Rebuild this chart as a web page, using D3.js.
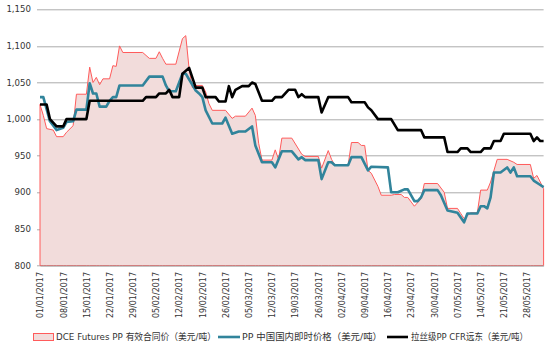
<!DOCTYPE html>
<html>
<head>
<meta charset="utf-8">
<script src="https://cdn.jsdelivr.net/npm/d3@7"></script>
<style>
body { margin: 0; background: #fff; }
</style>
</head>
<body>
<div id="chart"></div>
<script>
// DCE Futures PP contract price (red area)
const futures = [["01/01",1020],["02/01",1005],["03/01",987],["05/01",985],["06/01",976],["08/01",976],["09/01",982],["11/01",991],["12/01",1034],["15/01",1034],["16/01",1071],["17/01",1050],["18/01",1057],["19/01",1047],["20/01",1055],["22/01",1055],["23/01",1073],["24/01",1072],["25/01",1100],["26/01",1091],["01/02",1091],["03/02",1083],["05/02",1083],["06/02",1092],["07/02",1083],["08/02",1075],["11/02",1075],["13/02",1110],["14/02",1114],["15/02",1069],["16/02",1043],["17/02",1046],["19/02",1046],["20/02",1037],["21/02",1021],["22/02",1012],["26/02",1012],["28/02",1001],["01/03",1004],["04/03",1004],["06/03",1015],["07/03",1005],["08/03",967],["09/03",944],["12/03",944],["13/03",958],["14/03",945],["15/03",974],["18/03",974],["21/03",952],["22/03",949],["26/03",949],["27/03",933],["29/03",957],["30/03",945],["31/03",937],["04/04",937],["05/04",968],["07/04",968],["08/04",964],["09/04",964],["10/04",930],["11/04",926],["13/04",908],["14/04",896],["17/04",896],["18/04",897],["20/04",897],["21/04",893],["22/04",893],["24/04",881],["26/04",891],["27/04",912],["01/05",912],["03/05",900],["04/05",878],["07/05",878],["08/05",871],["09/05",864],["11/05",872],["13/05",872],["14/05",903],["16/05",903],["17/05",914],["19/05",945],["22/05",945],["24/05",941],["25/05",938],["29/05",938],["30/05",919],["31/05",923],["02/06",905]];

// PP China domestic spot price (teal line)
const domestic = [["01/01",1030],["02/01",1030],["04/01",997],["06/01",985],["08/01",988],["09/01",996],["11/01",997],["12/01",1013],["15/01",1013],["16/01",1049],["17/01",1035],["18/01",1035],["19/01",1017],["21/01",1017],["22/01",1025],["23/01",1030],["24/01",1030],["25/01",1046],["01/02",1046],["03/02",1058],["07/02",1058],["08/02",1046],["09/02",1038],["11/02",1038],["13/02",1062],["14/02",1062],["17/02",1039],["18/02",1035],["19/02",1030],["20/02",1012],["22/02",994],["25/02",994],["26/02",1002],["28/02",980],["02/03",983],["04/03",983],["06/03",990],["07/03",964],["09/03",941],["12/03",941],["13/03",934],["15/03",956],["18/03",956],["20/03",945],["21/03",948],["22/03",944],["26/03",944],["27/03",918],["29/03",941],["30/03",941],["31/03",937],["04/04",937],["05/04",948],["08/04",948],["10/04",930],["11/04",935],["16/04",934],["17/04",900],["19/04",900],["21/04",904],["22/04",904],["24/04",888],["25/04",888],["26/04",893],["27/04",903],["01/05",903],["02/05",896],["04/05",875],["07/05",872],["09/05",859],["10/05",871],["13/05",871],["14/05",881],["15/05",881],["16/05",878],["17/05",893],["18/05",927],["20/05",927],["22/05",934],["23/05",927],["24/05",934],["25/05",922],["29/05",922],["30/05",916],["01/06",910],["02/06",907]];

// raffia grade PP CFR Far East (black line)
const cfr = [["01/01",1020],["03/01",1020],["04/01",1000],["06/01",990],["08/01",990],["09/01",1000],["15/01",1000],["16/01",1025],["01/02",1025],["02/02",1030],["05/02",1030],["06/02",1035],["08/02",1035],["09/02",1040],["10/02",1030],["12/02",1030],["13/02",1062],["15/02",1070],["17/02",1043],["19/02",1043],["20/02",1030],["23/02",1030],["24/02",1024],["26/02",1024],["27/02",1045],["28/02",1030],["01/03",1040],["03/03",1045],["05/03",1045],["06/03",1050],["07/03",1048],["09/03",1025],["12/03",1025],["13/03",1030],["15/03",1030],["17/03",1040],["19/03",1040],["20/03",1030],["21/03",1034],["22/03",1030],["26/03",1030],["27/03",1009],["29/03",1030],["04/04",1030],["05/04",1023],["09/04",1023],["10/04",1016],["11/04",1012],["13/04",1000],["17/04",1000],["19/04",985],["26/04",985],["27/04",975],["03/05",975],["04/05",955],["07/05",955],["08/05",960],["10/05",960],["11/05",955],["14/05",955],["15/05",960],["17/05",960],["18/05",970],["20/05",970],["21/05",980],["29/05",980],["30/05",970],["31/05",975],["01/06",970],["02/06",970]];

const weekTicks = ["01/01","08/01","15/01","22/01","29/01","05/02","12/02","19/02","26/02","05/03","12/03","19/03","26/03","02/04","09/04","16/04","23/04","30/04","07/05","14/05","21/05","28/05"];
const yTicks = [800, 850, 900, 950, 1000, 1050, 1100, 1150];
const xRange = ["01/01", "02/06"];
const legendLabels = ["DCE Futures PP 有效合同价（美元/吨）", "PP 中国国内即时价格（美元/吨）", "拉丝级PP CFR远东（美元/吨）"];

const parseDay = s => d3.timeParse("%d/%m/%Y")(s + "/2017");
const toPoints = arr => arr.map(d => ({date: parseDay(d[0]), value: d[1]}));

// set the dimensions and margins of the graph
const margin = {top: 9.3, right: 6.4, bottom: 85.5, left: 40},
  width = 550 - margin.left - margin.right,
  height = 351 - margin.top - margin.bottom;

const svg = d3.select("#chart")
  .append("svg")
  .attr("width", 550)
  .attr("height", 351)
  .style("font-family", "'DejaVu Sans', 'Noto Sans CJK SC', sans-serif");

const chart = svg.append("g")
  .attr("transform", `translate(${margin.left},${margin.top})`);

const x = d3.scaleTime()
  .domain(xRange.map(parseDay))
  .range([0, width]);

const y = d3.scaleLinear()
  .domain([d3.min(yTicks), d3.max(yTicks)])
  .range([height, 0]);

// horizontal gridlines + y labels
chart.append("g")
  .selectAll("line")
  .data(yTicks)
  .join("line")
  .attr("x1", -3)
  .attr("x2", width)
  .attr("y1", d => Math.round(y(d)) + 0.5)
  .attr("y2", d => Math.round(y(d)) + 0.5)
  .attr("stroke", "#ababab")
  .attr("stroke-width", 1);

chart.append("g")
  .selectAll("text")
  .data(yTicks)
  .join("text")
  .attr("x", -9)
  .attr("y", d => y(d))
  .attr("dy", "0.35em")
  .attr("text-anchor", "end")
  .attr("font-size", "8.6px")
  .attr("fill", "#333")
  .text(d3.format(","));

// futures area
const futData = toPoints(futures);
chart.append("path")
  .datum(futData)
  .attr("fill", "#f2dcdb")
  .attr("stroke", "#ff5b5b")
  .attr("stroke-width", 1)
  .attr("stroke-linejoin", "round")
  .attr("d", d3.area()
    .x(d => x(d.date))
    .y0(height)
    .y1(d => y(d.value)));

// domestic line
chart.append("path")
  .datum(toPoints(domestic))
  .attr("fill", "none")
  .attr("stroke", "#31849b")
  .attr("stroke-width", 2.6)
  .attr("stroke-linejoin", "round")
  .attr("d", d3.line()
    .x(d => x(d.date))
    .y(d => y(d.value)));

// CFR line
chart.append("path")
  .datum(toPoints(cfr))
  .attr("fill", "none")
  .attr("stroke", "#000")
  .attr("stroke-width", 2.6)
  .attr("stroke-linejoin", "round")
  .attr("d", d3.line()
    .x(d => x(d.date))
    .y(d => y(d.value)));

// X axis
const xAxis = chart.append("g")
  .attr("transform", `translate(0,${height})`)
  .call(d3.axisBottom(x)
    .tickValues(weekTicks.map(parseDay))
    .tickSize(0)
    .tickFormat(d3.timeFormat("%d/%m/%Y")));
xAxis.select(".domain").attr("stroke", "#a0a0a0");
xAxis.selectAll("text")
  .attr("transform", "rotate(-90)")
  .attr("x", -6.5)
  .attr("y", 0)
  .attr("dy", "0.35em")
  .attr("text-anchor", "end")
  .attr("font-size", "8px")
  .attr("font-family", "'DejaVu Sans', sans-serif")
  .attr("fill", "#333");

// legend
const legend = svg.append("g").attr("transform", "translate(0,337)");
legend.append("rect")
  .attr("x", 33.5).attr("y", -3.5)
  .attr("width", 20).attr("height", 7)
  .attr("fill", "#f2dcdb")
  .attr("stroke", "#ff5b5b");
legend.append("line")
  .attr("x1", 218).attr("x2", 240)
  .attr("stroke", "#31849b").attr("stroke-width", 2.6);
legend.append("line")
  .attr("x1", 387).attr("x2", 408)
  .attr("stroke", "#000").attr("stroke-width", 2.6);

const legendText = [{x: 56, w: 160}, {x: 242, w: 140}, {x: 411, w: 117}];
legend.selectAll("text")
  .data(legendLabels)
  .join("text")
  .attr("x", (d, i) => legendText[i].x)
  .attr("dy", "0.35em")
  .attr("font-size", "9.5px")
  .attr("fill", "#333")
  .attr("textLength", (d, i) => legendText[i].w)
  .attr("lengthAdjust", "spacingAndGlyphs")
  .text(d => d);
</script>
</body>
</html>
